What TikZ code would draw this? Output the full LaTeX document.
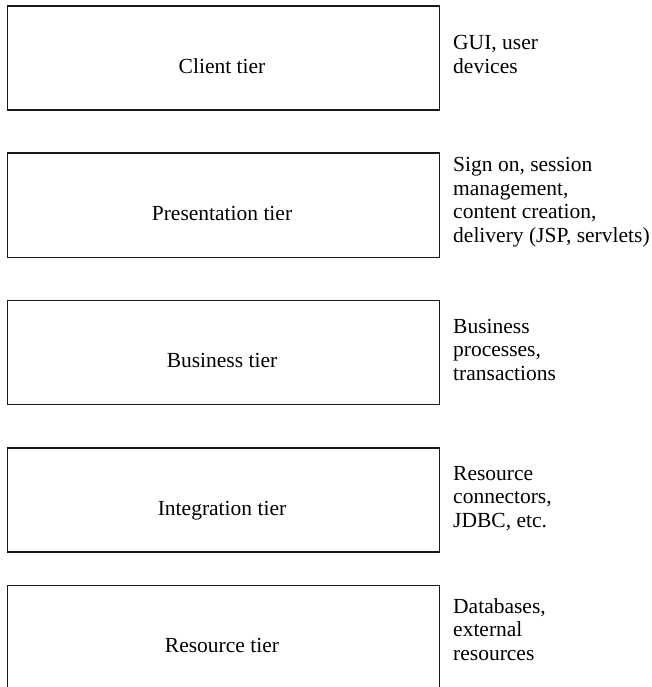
\documentclass[tikz,border=0pt]{standalone}
\usepackage{fontspec}
\setmainfont{Liberation Serif}
\begin{document}
\begin{tikzpicture}[x=1pt,y=-1pt,
  tierbox/.style={draw=black!90, line width=1.5pt, minimum width=432pt,
    minimum height=104pt, inner sep=0pt, anchor=north west},
  tiername/.style={anchor=base, inner sep=0pt,
    font=\fontsize{21.5}{23}\selectfont},
  % the base anchor of a multi-line note sits on its last line
  tiernote/.style={anchor=base west, inner sep=0pt, align=left,
    font=\fontsize{21.5}{23.5}\selectfont}]
  \clip (0,0) rectangle (651,687);

  % tier boxes
  \node[tierbox] (client)  at (6.5,5.5)   {};
  \node[tierbox] (present) at (6.5,152.5) {};
  \node[tierbox] (busi)    at (6.5,299.5) {};
  \node[tierbox] (integ)   at (6.5,447)   {};
  \node[tierbox] (resrc)   at (6.5,584.5) {};

  % tier names
  \node[tiername] (clientname)  at (222,73.5)  {Client tier};
  \node[tiername] (presentname) at (222,220.5) {Presentation tier};
  \node[tiername] (businame)    at (222,367.5) {Business tier};
  \node[tiername] (integname)   at (222,515)   {Integration tier};
  \node[tiername] (resrcname)   at (222,652.5) {Resource tier};

  % notes beside the tiers
  \node[tiernote] (clientnote)  at (453,73.5)  {GUI, user\\devices};
  \node[tiernote] (presentnote) at (453,242) {Sign on, session\\management,\\content creation,\\delivery (JSP, servlets)};
  \node[tiernote] (businote)    at (453,380) {Business\\processes,\\transactions};
  \node[tiernote] (integnote)   at (453,527) {Resource\\connectors,\\JDBC, etc.};
  \node[tiernote] (resrcnote)   at (453,660) {Databases,\\external\\resources};
\end{tikzpicture}
\end{document}
